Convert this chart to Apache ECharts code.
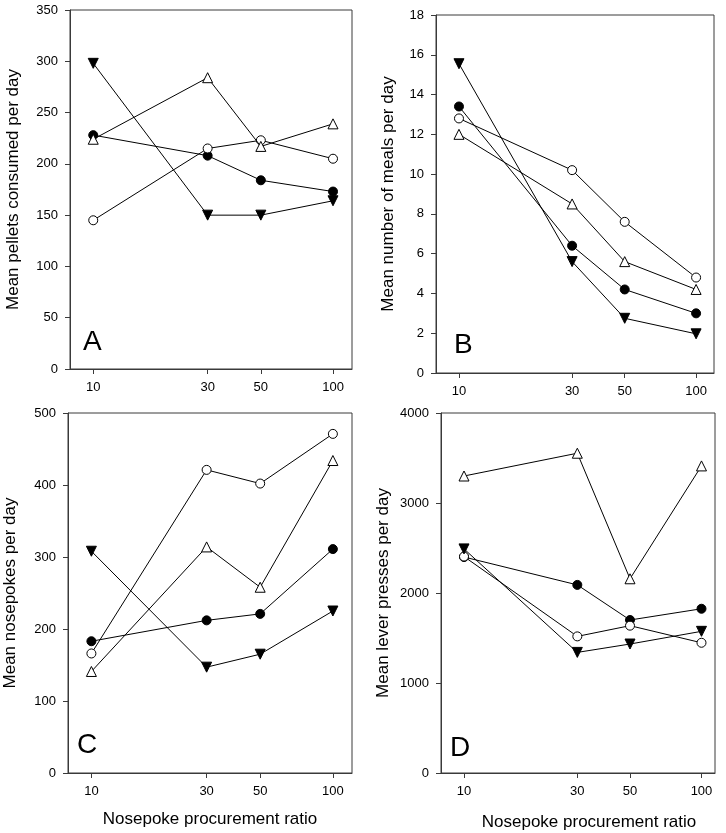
<!DOCTYPE html>
<html>
<head>
<meta charset="utf-8">
<script src="https://cdn.jsdelivr.net/npm/echarts@6/dist/echarts.min.js"></script>
<style>
html,body{margin:0;padding:0;background:#fff;}
#c{width:726px;height:833px;}
</style>
</head>
<body>
<div id="c"></div>
<script>
// Nosepoke procurement ratios (x values)
const ratios = [10, 30, 50, 100];
const xTickLabels = [10, 30, 50, 100];

// Panel A: Mean pellets consumed per day
const pelletsFilledCircle = [228, 208, 184, 173];
const pelletsOpenCircle   = [145, 215, 223, 205];
const pelletsFilledTri    = [298, 150, 150, 164];
const pelletsOpenTri      = [224, 284, 217, 239];

// Panel B: Mean number of meals per day
const mealsFilledCircle = [13.4, 6.4, 4.2, 3.0];
const mealsOpenCircle   = [12.8, 10.2, 7.6, 4.8];
const mealsFilledTri    = [15.55, 5.6, 2.75, 1.97];
const mealsOpenTri      = [12.0, 8.5, 5.6, 4.2];

// Panel C: Mean nosepokes per day
const pokesFilledCircle = [183, 212, 221, 311];
const pokesOpenCircle   = [166, 421, 402, 471];
const pokesFilledTri    = [308, 147, 165, 225];
const pokesOpenTri      = [141, 314, 258, 434];

// Panel D: Mean lever presses per day
const leverFilledCircle = [2400, 2090, 1700, 1825];
const leverOpenCircle   = [2405, 1518, 1637, 1447];
const leverFilledTri    = [2490, 1340, 1433, 1574];
const leverOpenTri      = [3300, 3553, 2158, 3412];

// Y axis tick settings
const yMax = [350, 18, 500, 4000];
const yInterval = [50, 2, 100, 1000];
const yTitles = ['Mean pellets consumed per day', 'Mean number of meals per day', 'Mean nosepokes per day', 'Mean lever presses per day'];
const xTitle = 'Nosepoke procurement ratio';
const panelLetters = ['A', 'B', 'C', 'D'];

const FONT = 'Liberation Sans, Arial, sans-serif';
const AX = '#3a3a3a';

const grids = [
  {left: 70, top: 10, width: 282, height: 359},
  {left: 436, top: 15, width: 278, height: 358},
  {left: 68, top: 413, width: 284, height: 360},
  {left: 441, top: 413, width: 274, height: 360}
];
const xMaxes = [120, 119, 120, 114];
const yNameGaps = [48, 39, 49, 49];

const panelData = [
  [pelletsFilledCircle, pelletsOpenCircle, pelletsFilledTri, pelletsOpenTri],
  [mealsFilledCircle, mealsOpenCircle, mealsFilledTri, mealsOpenTri],
  [pokesFilledCircle, pokesOpenCircle, pokesFilledTri, pokesOpenTri],
  [leverFilledCircle, leverOpenCircle, leverFilledTri, leverOpenTri]
];

const markerStyles = [
  {symbol: 'circle', symbolSize: 9, fill: '#000', rotate: 0},
  {symbol: 'circle', symbolSize: 9, fill: '#fff', rotate: 0},
  {symbol: 'triangle', symbolSize: 10, fill: '#000', rotate: 180},
  {symbol: 'triangle', symbolSize: 10, fill: '#fff', rotate: 0}
];

const xAxes = [], yAxes = [], series = [];
grids.forEach((g, i) => {
  g.show = true;
  g.borderColor = AX;
  g.borderWidth = 1;
  g.containLabel = false;
  const isBottom = i >= 2;
  xAxes.push({
    type: 'log',
    logBase: 10,
    gridIndex: i,
    min: 8,
    max: xMaxes[i],
    axisLine: {show: true, onZero: false, lineStyle: {color: AX, width: 1}},
    axisTick: {show: true, length: 5, inside: false, lineStyle: {color: AX}, customValues: xTickLabels},
    minorTick: {show: false},
    splitLine: {show: false},
    minorSplitLine: {show: false},
    axisLabel: {show: true, customValues: xTickLabels, margin: 12, color: '#000', fontSize: 13, fontFamily: FONT,
      formatter: v => String(Math.round(v))},
    name: isBottom ? xTitle : '',
    nameLocation: 'middle',
    nameGap: i === 2 ? 38 : 41,
    nameTextStyle: {color: '#000', fontSize: 17, fontFamily: FONT, padding: i === 3 ? [0, 0, 0, 22] : 0}
  });
  yAxes.push({
    type: 'value',
    gridIndex: i,
    min: 0,
    max: yMax[i],
    interval: yInterval[i],
    axisLine: {show: true, lineStyle: {color: AX, width: 1}},
    axisTick: {show: true, length: 5, inside: false, lineStyle: {color: AX}},
    splitLine: {show: false},
    axisLabel: {margin: 12, color: '#000', fontSize: 13, fontFamily: FONT, formatter: v => String(v)},
    name: yTitles[i],
    nameLocation: 'middle',
    nameRotate: 90,
    nameGap: yNameGaps[i],
    nameTextStyle: {color: '#000', fontSize: 17, fontFamily: FONT}
  });
  panelData[i].forEach((vals, k) => {
    const m = markerStyles[k];
    series.push({
      type: 'line',
      xAxisIndex: i,
      yAxisIndex: i,
      data: ratios.map((r, j) => [r, vals[j]]),
      symbol: m.symbol,
      symbolSize: m.symbolSize,
      symbolRotate: m.rotate,
      showAllSymbol: true,
      lineStyle: {color: '#000', width: 1},
      itemStyle: {color: m.fill, borderColor: '#000', borderWidth: 1},
      emphasis: {disabled: true},
      animation: false,
      z: 2 + k
    });
  });
});

const letterPos = [[83, 342], [454, 345.5], [77, 745.5], [450, 748.5]];
const graphic = panelLetters.map((t, i) => ({
  type: 'text',
  x: letterPos[i][0],
  y: letterPos[i][1],
  style: {text: t, font: '28px ' + FONT, fill: '#000', textAlign: 'left', textVerticalAlign: 'middle'},
  z: 10
}));

const chart = echarts.init(document.getElementById('c'), null, {renderer: 'canvas'});
chart.setOption({
  backgroundColor: '#fff',
  animation: false,
  grid: grids,
  xAxis: xAxes,
  yAxis: yAxes,
  series: series,
  graphic: graphic
});
</script>
</body>
</html>
